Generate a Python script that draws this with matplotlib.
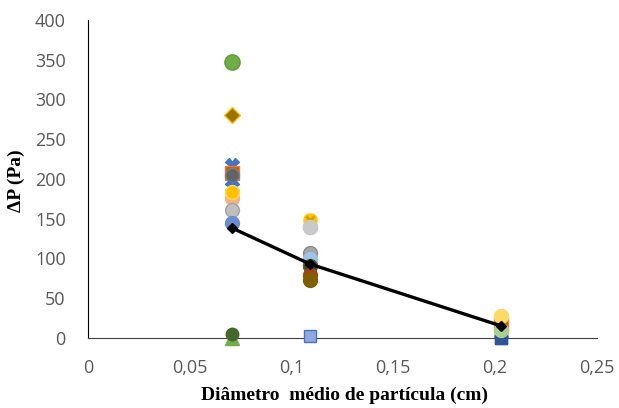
import numpy as np
import matplotlib
matplotlib.use("Agg")
import matplotlib.pyplot as plt

# Mean particle diameters (cm)
diametro = [0.071, 0.109, 0.203]
nan = np.nan

# Pressure drop (Pa) for each run, one value per particle size
serie_verde = [347, nan, nan]
serie_ouro = [281, nan, nan]
serie_azul_x = [218, nan, nan]
serie_laranja_q = [207, nan, 18]
serie_cinza_esc = [205, 92, nan]
serie_azul_x2 = [190, nan, nan]
serie_amarelo = [184, 148, 27]
serie_pessego = [176, nan, nan]
serie_cinza_cl = [161, 140, nan]
serie_azul_cl = [145, 99, nan]
serie_cinza = [nan, 107, nan]
serie_ardosia = [nan, 90, nan]
serie_ferrugem = [nan, 79, nan]
serie_marrom = [nan, 73, nan]
serie_verde_esc = [5, nan, nan]
serie_verde_tri = [0, nan, 10]
serie_azul_q = [nan, 2, 0]
media = [138, 93, 15]

fig = plt.figure(figsize=(6.19, 4.08), dpi=100)
ax = fig.add_axes([0.142, 0.172, 0.822, 0.779])

def pts(vals, marker, face, edge, size=10):
    ax.plot(diametro, vals, linestyle="none", marker=marker, markersize=size,
            markerfacecolor=face, markeredgecolor=edge, markeredgewidth=1.0,
            zorder=3, clip_on=False)

pts(serie_verde_tri, "^", "#70AD47", "#70AD47", 10)
pts(serie_verde_esc, "o", "#43682B", "#43682B", 9)
pts(serie_azul_q, "s", "#8FAADC", "#4472C4", 9)
pts([nan, nan, 0], "s", "#2F5597", "#2F5597", 9)
pts(serie_verde, "o", "#70AD47", "#5E9A3A", 11)
pts(serie_ouro, "D", "#997300", "#FFC000", 8)
pts(serie_azul_x, "X", "#4472C4", "#4472C4", 10)
pts(serie_laranja_q, "s", "#C55A11", "#ED7D31", 10)
pts(serie_cinza_esc, "o", "#636363", "#7F7F7F", 10)
pts(serie_azul_x2, "X", "#4472C4", "#4472C4", 10)
pts(serie_pessego, "o", "#F4B183", "#F4B183", 10)
pts(serie_amarelo, "o", "#FFC000", "#FFD966", 10)
pts(serie_cinza_cl, "o", "#BFBFBF", "#A5A5A5", 10)
pts(serie_azul_cl, "o", "#698ED0", "#698ED0", 10)
pts(serie_cinza, "o", "#A5A5A5", "#8C8C8C", 10)
pts([nan, 99, nan], "o", "#9DC3E6", "#9DC3E6", 10)
pts(serie_ardosia, "o", "#404040", "#43682B", 10)
pts(serie_ferrugem, "o", "#9E480E", "#9E480E", 10)
pts(serie_marrom, "o", "#7F6000", "#7F6000", 10)
pts([nan, nan, 27], "o", "#FFD966", "#FFD966", 10)
pts([nan, nan, 10], "o", "#A9D18E", "#A9D18E", 10)
pts([nan, 148, nan], "X", "#D4A000", "#FFC000", 9)
pts([nan, 140, nan], "o", "#C9C9C9", "#C9C9C9", 10)

ax.plot(diametro, media, color="black", linewidth=2.4, marker="D",
        markersize=5, markerfacecolor="black", zorder=4)

ax.set_xlim(0, 0.25)
ax.set_ylim(0, 400)
xt = [0, 0.05, 0.1, 0.15, 0.2, 0.25]
ax.set_xticks(xt)
ax.set_xticklabels(["0", "0,05", "0,1", "0,15", "0,2", "0,25"])
ax.set_yticks(np.arange(0, 401, 50))

for s in ["top", "right"]:
    ax.spines[s].set_visible(False)
ax.spines["left"].set_color("black")
ax.spines["bottom"].set_color("#404040")
ax.spines["bottom"].set_zorder(2.5)
ax.tick_params(axis="y", length=0, labelsize=13, labelcolor="#595959", pad=16)
ax.tick_params(axis="x", length=0, labelsize=13, labelcolor="#595959", pad=15.5)
for lab in ax.get_xticklabels() + ax.get_yticklabels():
    lab.set_family("Open Sans")

ax.set_xlabel("Diâmetro  médio de partícula (cm)", family="Liberation Serif",
              fontweight="bold", fontsize=14)
ax.set_ylabel("ΔP (Pa)", family="Liberation Serif", fontweight="bold",
              fontsize=14)
ax.xaxis.label.set_va("center")
ax.yaxis.label.set_va("center")
ax.xaxis.set_label_coords(0.505, -0.18)
ax.yaxis.set_label_coords(-0.141, 0.494)

fig.savefig("out.png", dpi=100)
